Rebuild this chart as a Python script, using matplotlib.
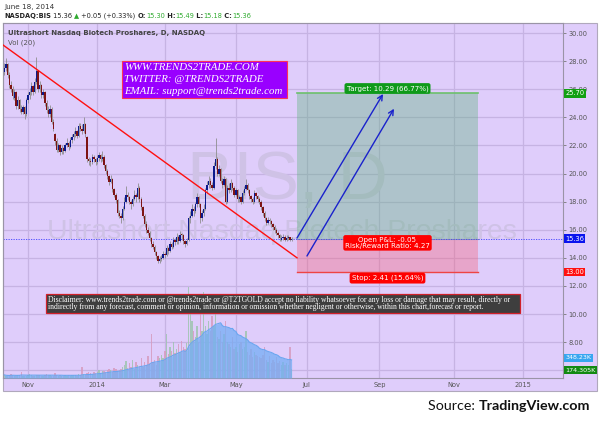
import numpy as np
import pandas as pd
import matplotlib
matplotlib.use("Agg")
import matplotlib.pyplot as plt
from matplotlib.patches import Rectangle
import matplotlib.transforms as mtrans

# ---------------- data ----------------
start_date = "2013-10-14"
axis_end_date = "2015-03-31"
market_holidays = ["2013-11-28", "2013-12-25", "2014-01-01", "2014-01-20", "2014-02-17",
                   "2014-04-18", "2014-05-26", "2014-07-04", "2014-09-01", "2014-11-27",
                   "2014-12-25", "2015-01-01", "2015-01-19", "2015-02-16"]

opens = [27.2, 27.5, 27.8, 27.0, 26.3, 26.0, 25.4, 25.8, 24.8, 25.2,
         24.6, 24.4, 24.7, 24.2, 25.2, 25.6, 25.8, 26.2, 25.8, 26.5,
         27.3, 26.0, 26.3, 25.6, 25.8, 25.0, 24.5, 24.2, 24.6, 23.7,
         22.8, 22.3, 21.7, 22.0, 21.5, 21.8, 21.6, 22.0, 22.2, 21.9,
         22.4, 22.6, 22.8, 23.0, 22.7, 23.4, 23.2, 23.0, 23.5, 22.6,
         21.0, 20.9, 20.8, 21.2, 21.0, 20.8, 21.1, 21.3, 21.0, 21.2,
         20.6, 20.2, 19.8, 19.4, 19.6, 18.9, 18.5, 18.1, 17.2, 17.0,
         16.8, 17.5, 18.0, 18.5, 18.3, 18.0, 17.8, 18.2, 18.5, 18.3,
         19.0, 18.2, 17.6, 17.0, 16.4, 16.0, 15.8, 15.4, 15.0, 14.8,
         14.4, 14.1, 13.8, 13.9, 14.0, 14.3, 14.2, 14.7, 14.5, 15.0,
         14.8, 15.3, 15.1, 15.5, 15.2, 15.7, 15.6, 15.2, 15.0, 15.3,
         16.8, 17.0, 17.5, 17.3, 17.8, 18.3, 17.8, 16.8, 17.2, 17.5,
         18.8, 19.2, 19.5, 19.2, 19.0, 20.5, 21.0, 20.0, 20.3, 19.5,
         19.2, 19.6, 18.0, 19.0, 18.8, 19.3, 19.0, 18.5, 18.8, 18.2,
         18.3, 18.0, 18.6, 18.9, 19.2, 18.8, 18.4, 18.2, 18.0, 18.6,
         18.4, 18.2, 18.0, 17.6, 17.2, 16.8, 16.5, 16.7, 16.6, 16.4,
         16.2, 16.0, 15.8, 15.6, 15.3, 15.4, 15.5, 15.3, 15.4, 15.45,
         15.30]
highs = [27.9, 28.2, 27.9, 27.2, 26.6, 26.2, 26.0, 25.9, 25.5, 25.3,
         24.9, 24.9, 24.8, 25.4, 25.8, 26.1, 26.5, 26.3, 26.8, 28.3,
         27.4, 26.6, 26.4, 26.0, 25.9, 25.2, 24.8, 24.9, 24.7, 23.9,
         22.9, 22.5, 22.2, 22.1, 22.0, 21.9, 22.2, 22.5, 22.3, 22.6,
         22.8, 23.0, 23.3, 23.1, 23.6, 23.6, 23.5, 24.0, 23.6, 22.7,
         21.2, 21.1, 21.4, 21.3, 21.1, 21.3, 21.5, 21.4, 21.6, 21.3,
         20.7, 20.3, 19.9, 19.9, 19.7, 19.0, 18.6, 18.2, 17.4, 17.2,
         17.7, 18.3, 19.1, 18.7, 18.4, 18.1, 18.4, 18.8, 18.6, 19.3,
         19.1, 18.3, 17.7, 17.1, 16.6, 16.2, 15.9, 15.5, 15.2, 14.9,
         14.5, 14.2, 14.1, 14.2, 14.5, 14.4, 14.9, 14.8, 15.2, 15.1,
         15.5, 15.4, 15.8, 15.6, 15.9, 15.8, 15.7, 15.3, 15.4, 17.0,
         17.3, 17.8, 17.7, 18.0, 18.6, 18.4, 17.9, 17.4, 17.8, 19.0,
         19.5, 19.8, 19.7, 19.4, 20.8, 22.5, 21.2, 20.6, 20.4, 19.7,
         19.8, 19.7, 19.2, 19.3, 19.6, 19.4, 19.1, 19.0, 18.9, 18.5,
         18.4, 18.8, 19.1, 19.6, 19.3, 18.9, 18.5, 18.3, 18.8, 18.7,
         18.5, 18.3, 18.1, 17.7, 17.3, 16.9, 16.9, 16.8, 16.7, 16.5,
         16.3, 16.1, 15.9, 15.7, 15.6, 15.7, 15.6, 15.6, 15.6, 15.5,
         15.49]
lows = [27.0, 27.3, 26.8, 26.1, 25.8, 25.3, 25.2, 24.6, 24.6, 24.4,
        24.2, 24.2, 23.9, 24.1, 25.0, 25.3, 25.6, 25.6, 25.7, 26.4,
        25.8, 25.8, 25.4, 25.4, 24.8, 24.3, 24.0, 24.0, 23.5, 23.0,
        22.0, 21.5, 21.5, 21.3, 21.4, 21.4, 21.5, 21.9, 21.7, 21.8,
        22.2, 22.4, 22.6, 22.5, 22.6, 23.0, 22.8, 22.9, 22.6, 20.8,
        20.6, 20.5, 20.7, 20.8, 20.6, 20.7, 20.9, 20.8, 20.9, 20.4,
        20.0, 19.6, 19.2, 19.3, 18.7, 18.3, 17.9, 17.0, 16.8, 16.5,
        16.7, 17.4, 17.9, 18.1, 17.8, 17.5, 17.7, 18.1, 18.0, 18.2,
        18.0, 17.4, 16.8, 16.2, 15.8, 15.6, 15.2, 14.8, 14.6, 14.2,
        13.9, 13.6, 13.6, 13.8, 13.9, 14.0, 14.1, 14.3, 14.4, 14.6,
        14.7, 14.9, 15.0, 15.0, 15.1, 15.3, 15.0, 14.8, 14.9, 15.2,
        16.5, 16.9, 17.0, 17.2, 17.6, 17.6, 16.5, 16.6, 17.0, 17.4,
        18.6, 19.0, 19.0, 18.8, 18.9, 20.3, 19.8, 19.8, 19.3, 19.0,
        19.1, 17.8, 17.9, 18.6, 18.7, 18.8, 18.3, 18.4, 18.0, 18.0,
        17.8, 17.9, 18.5, 18.8, 18.6, 18.2, 18.0, 17.8, 17.9, 18.2,
        18.0, 17.8, 17.4, 17.0, 16.6, 16.3, 16.4, 16.4, 16.2, 16.0,
        15.8, 15.6, 15.4, 15.2, 15.2, 15.3, 15.2, 15.2, 15.3, 15.2,
        15.18]
closes = [27.5, 27.8, 27.0, 26.3, 26.0, 25.5, 25.8, 24.8, 25.2, 24.6,
          24.4, 24.7, 24.2, 25.2, 25.6, 25.8, 26.2, 25.8, 26.5, 27.3,
          26.0, 26.3, 25.6, 25.8, 25.0, 24.5, 24.2, 24.6, 23.7, 23.2,
          22.3, 21.7, 22.0, 21.5, 21.8, 21.6, 22.0, 22.2, 21.9, 22.4,
          22.6, 22.8, 23.0, 22.7, 23.4, 23.2, 23.0, 23.5, 22.8, 21.0,
          20.9, 20.8, 21.2, 21.0, 20.8, 21.1, 21.3, 21.0, 21.2, 20.6,
          20.2, 19.8, 19.4, 19.6, 18.9, 18.5, 18.1, 17.2, 17.0, 16.8,
          17.5, 18.0, 18.5, 18.3, 18.0, 17.8, 18.2, 18.5, 18.3, 19.0,
          18.2, 17.6, 17.0, 16.4, 16.0, 15.8, 15.4, 15.0, 14.8, 14.4,
          14.1, 13.8, 13.9, 14.0, 14.3, 14.2, 14.7, 14.5, 15.0, 14.8,
          15.3, 15.1, 15.5, 15.2, 15.6, 15.6, 15.2, 15.0, 15.2, 16.8,
          17.0, 17.5, 17.3, 17.8, 18.3, 17.8, 16.8, 17.2, 17.5, 18.8,
          19.2, 19.5, 19.2, 19.0, 20.5, 21.0, 20.0, 20.3, 19.5, 19.2,
          19.6, 18.0, 19.0, 18.8, 19.3, 19.0, 18.5, 18.8, 18.2, 18.3,
          18.0, 18.6, 18.9, 19.2, 18.8, 18.4, 18.2, 18.0, 18.6, 18.4,
          18.2, 18.0, 17.6, 17.2, 16.8, 16.5, 16.7, 16.6, 16.4, 16.2,
          16.0, 15.8, 15.6, 15.4, 15.4, 15.5, 15.3, 15.4, 15.45, 15.30,
          15.36]
volumes_k = [60, 45, 50, 40, 70, 55, 45, 40, 60, 50, 120, 45, 40, 35, 60, 80, 50, 45, 40, 55,
             60, 50, 45, 40, 55, 70, 60, 50, 45, 40, 90, 60, 45, 50, 40, 35, 60, 45, 50, 40,
             55, 60, 50, 45, 70, 65, 220, 80, 60, 90, 120,
             100, 80, 110, 90, 120, 150, 100, 130, 140, 110, 160, 180, 150, 120, 200, 170, 140, 160, 180, 210,
             250, 330, 200, 280, 220, 350, 180, 300, 260, 240, 380, 220, 300, 250, 420, 280, 840, 300, 350, 260,
             420, 380, 450, 380, 520, 840, 460, 600, 520, 700, 480, 560, 650, 500, 720, 600, 550, 680,
             1750, 1300, 1100, 900, 800, 1000, 700, 1400, 900, 1650, 1000, 850, 1100, 900, 1200, 1000, 1300,
             800, 750, 900, 700, 850,
             1100, 700, 650, 600, 800, 550, 600, 500, 650, 700, 550, 600, 900, 500, 450, 550, 400, 500, 450, 420,
             400, 380, 450, 600, 350, 300, 420, 280, 350, 300, 400, 280, 320, 260, 300, 250, 280, 260, 600, 174.305]

price_ticks = [8, 10, 12, 14, 16, 18, 20, 22, 24, 26, 28, 30]
month_starts = ["2013-11-01", "2014-01-02", "2014-03-03", "2014-05-01",
                "2014-07-01", "2014-09-02", "2014-11-03", "2015-01-02"]
month_labels = ["Nov", "2014", "Mar", "May", "Jul", "Sep", "Nov", "2015"]

trend_x = [-0.8, 173.2]
trend_y = [29.15, 14.0]

entry_price = 15.36
target_price = 25.70
stop_price = 13.00
position_x = [173.2, 280.3]
arrow1_x, arrow1_y = [173.2, 224.1], [15.41, 25.66]
arrow2_x, arrow2_y = [179.1, 230.6], [14.13, 24.61]
vol_ma_label = "348.23K"
vol_last_label = "174.305K"

# ---------------- figure ----------------
W, H = 600, 421
fig = plt.figure(figsize=(6, 4.21), dpi=100)
fig.patch.set_facecolor("white")


def fx(px):
    return px / W


def fy(py):
    return 1 - py / H


LAV = "#dfcdfb"
GRID = "#c6b3e3"
WM = "#cfc2e6"

bg = Rectangle((fx(3), fy(391)), fx(597) - fx(3), fy(23) - fy(391), transform=fig.transFigure,
               facecolor=LAV, edgecolor="#b0a8bc", lw=0.8, zorder=-10)
fig.patches.append(bg)

rect = [fx(3), fy(378), fx(563) - fx(3), fy(23) - fy(378)]
ax = fig.add_axes(rect, zorder=1)
ax.set_facecolor("none")
axv = fig.add_axes(rect, zorder=2, sharex=ax)
axv.set_facecolor("none")

holidays = pd.to_datetime(market_holidays)
sessions = pd.bdate_range(start_date, axis_end_date, freq="C", holidays=holidays)
n = len(closes)
idx = np.arange(n)
o = np.array(opens)
h = np.array(highs)
l = np.array(lows)
c = np.array(closes)
up = c >= o

ax.set_xlim(-0.77, 330.6)
ax.set_ylim(5.445, 30.712)

# grid
tick_pos = [int(np.searchsorted(sessions.values, np.datetime64(d))) for d in month_starts]
for tp in tick_pos:
    ax.axvline(tp, color=GRID, lw=0.9, zorder=0)
for pt in price_ticks + [6]:
    ax.axhline(pt, color=GRID, lw=0.9, zorder=0)

# watermark
ax.text(fx(287), fy(181), "BIS, D", transform=fig.transFigure, ha="center", va="center",
        fontsize=50, color=WM, family="Liberation Sans", zorder=0.5)
ax.text(fx(282), fy(232), "Ultrashort Nasdaq Biotech Proshares", transform=fig.transFigure,
        ha="center", va="center", fontsize=20.5, color=WM, family="Liberation Sans", zorder=0.5)

# position tool
ax.add_patch(Rectangle((position_x[0], entry_price), position_x[1] - position_x[0], target_price - entry_price,
                       facecolor=(0.35, 0.70, 0.47, 0.36), edgecolor="none", zorder=1))
ax.add_patch(Rectangle((position_x[0], stop_price), position_x[1] - position_x[0], entry_price - stop_price,
                       facecolor=(0.97, 0.37, 0.45, 0.36), edgecolor="none", zorder=1))
ax.plot(position_x, [target_price, target_price], color="#6cc06c", lw=1.2, zorder=2)
ax.plot(position_x, [stop_price, stop_price], color="#ee4444", lw=1.0, zorder=2)
ax.plot(position_x, [entry_price, entry_price], color="#9a9aaa", lw=0.8, zorder=2)

# last price dotted line
ax.axhline(entry_price, color="#4040ff", lw=0.6, ls=(0, (1.5, 1.5)), zorder=2)

# candles
ax.vlines(idx, l, h, color="#8e8e8e", lw=0.6, zorder=3)
body_lo = np.minimum(o, c)
body_h = np.maximum(np.abs(c - o), 0.05)
ax.bar(idx, body_h, bottom=body_lo, width=0.8, color=np.where(up, "#0c1a8c", "#7e1414"),
       linewidth=0, zorder=4)

# trend line
ax.plot(trend_x, trend_y, color="#ff1010", lw=1.0, zorder=5)

# arrows
for axx, ayy in ((arrow1_x, arrow1_y), (arrow2_x, arrow2_y)):
    ax.annotate("", xy=(axx[1], ayy[1]), xytext=(axx[0], ayy[0]),
                arrowprops=dict(arrowstyle="->", color="#1a22cc", lw=1.0, mutation_scale=9,
                                shrinkA=0, shrinkB=0), zorder=6)

# position labels
mid_x = (position_x[0] + position_x[1]) / 2
lab_font = dict(family="DejaVu Sans", fontsize=5.1, color="white", ha="center", zorder=7)
ax.annotate("Target: 10.29 (66.77%)", xy=(mid_x, target_price), xytext=(0, 1.2), textcoords="offset points",
            va="bottom", bbox=dict(boxstyle="round,pad=0.3,rounding_size=0.3", fc="#0f9a1a", ec="none"), **lab_font)
ax.annotate("Open P&L: -0.05\nRisk/Reward Ratio: 4.27", xy=(mid_x, entry_price), xytext=(0, -3.0),
            textcoords="offset points", va="center", linespacing=1.0,
            bbox=dict(boxstyle="round,pad=0.25,rounding_size=0.3", fc="#ff0000", ec="none"), **lab_font)
ax.annotate("Stop: 2.41 (15.64%)", xy=(mid_x, stop_price), xytext=(0, -2.2), textcoords="offset points",
            va="top", bbox=dict(boxstyle="round,pad=0.3,rounding_size=0.3", fc="#ff0000", ec="none"), **lab_font)

# axes styling
for sp in ax.spines.values():
    sp.set_color("#9a94a6")
    sp.set_linewidth(0.8)
for sp in axv.spines.values():
    sp.set_visible(False)
ax.yaxis.tick_right()
ax.set_yticks(price_ticks)
ax.set_yticklabels(["%.2f" % t for t in price_ticks])
ax.tick_params(axis="y", length=2.5, width=0.6, color="#777777", labelsize=4.8, labelcolor="#555555", pad=1.5)
ax.set_xticks(tick_pos)
ax.set_xticklabels(month_labels)
ax.tick_params(axis="x", length=0, labelsize=4.8, labelcolor="#555555", pad=3)
for lab in ax.get_xticklabels() + ax.get_yticklabels():
    lab.set_family("DejaVu Sans")

# price scale labels
bt = mtrans.blended_transform_factory(ax.transAxes, ax.transData)
for val, txt, col in ((target_price, "25.70", "#12a012"), (entry_price, "15.36", "#0a14ee"),
                      (stop_price, "13.00", "#ff1010")):
    ax.text(1.004, val, txt, transform=bt, ha="left", va="center", fontsize=4.8, color="white",
            family="DejaVu Sans", bbox=dict(boxstyle="square,pad=0.2", fc=col, ec="none"), clip_on=False, zorder=8)

# volume
vol = np.array(volumes_k, dtype=float)
vol_ma = pd.Series(vol).rolling(20, min_periods=1).mean().values
axv.set_ylim(0, 6850)
axv.bar(idx, vol, width=0.8, color=np.where(up, "#9fc4b0", "#d69cc0"), alpha=0.85, linewidth=0, zorder=1)
axv.fill_between(idx, 0, vol_ma, color="#74aef5", alpha=0.75, linewidth=0, zorder=2)
axv.plot(idx, vol_ma, color="#6aa6f0", lw=0.8, zorder=3)
axv.set_yticks([])
axv.tick_params(axis="x", length=0, labelbottom=False)
bv = mtrans.blended_transform_factory(axv.transAxes, axv.transData)
axv.text(1.004, vol_ma[-1] + 40, vol_ma_label, transform=bv, ha="left", va="center", fontsize=4.6, color="white",
         family="DejaVu Sans", bbox=dict(boxstyle="square,pad=0.2", fc="#38a6f0", ec="none"), clip_on=False)
axv.text(1.004, vol[-1] - 20, vol_last_label, transform=bv, ha="left", va="center", fontsize=4.6, color="white",
         family="DejaVu Sans", bbox=dict(boxstyle="square,pad=0.2", fc="#128a12", ec="none"), clip_on=False)

# in-chart titles
ax.text(fx(8), fy(33), "Ultrashort Nasdaq Biotech Proshares, D, NASDAQ", transform=fig.transFigure,
        fontsize=5.0, color="#444444", fontweight="bold", family="DejaVu Sans", va="center", zorder=8)
ax.text(fx(8), fy(42.5), "Vol (20)", transform=fig.transFigure,
        fontsize=5.0, color="#555555", family="DejaVu Sans", va="center", zorder=8)

renderer = fig.canvas.get_renderer()


def seq_text(x_px, y_px, pieces, size, family):
    x = x_px
    for s, col, wt in pieces:
        t = fig.text(fx(x), fy(y_px), s, color=col, fontsize=size, fontweight=wt, family=family,
                     ha="left", va="center")
        x += t.get_window_extent(renderer).width
    return x


# header
fig.text(fx(4), fy(6.5), "June 18, 2014", fontsize=5.2, color="#333333", family="DejaVu Sans", va="center")
G = "#2faa2f"
D = "#222222"
seq_text(4, 16, [("NASDAQ:BIS", D, "bold"), (" 15.36 ", D, "normal"), ("\u25B2", G, "normal"),
                 (" +0.05 (+0.33%) ", D, "normal"), ("O:", D, "bold"), ("15.30", G, "normal"),
                 (" H:", D, "bold"), ("15.49", G, "normal"), (" L:", D, "bold"), ("15.18", G, "normal"),
                 (" C:", D, "bold"), ("15.36", G, "normal")], 4.75, "DejaVu Sans")

# promo box
fig.patches.append(Rectangle((fx(122), fy(98)), fx(287) - fx(122), fy(61) - fy(98), transform=fig.transFigure,
                             facecolor="#9900ff", edgecolor="#ff3355", lw=0.8, zorder=9))
for k, line in enumerate(["WWW.TRENDS2TRADE.COM", "TWITTER: @TRENDS2TRADE", "EMAIL: support@trends2trade.com"]):
    fig.text(fx(124.5), fy(68 + 12 * k), line, fontsize=7.85, style="italic", color="white",
             family="Liberation Serif", va="center", zorder=10)

# disclaimer box
fig.patches.append(Rectangle((fx(46), fy(313)), fx(520) - fx(46), fy(294) - fy(313), transform=fig.transFigure,
                             facecolor="#3e3e3e", edgecolor="#d0202a", lw=0.9, zorder=9))
disc = ["Disclaimer: www.trends2trade.com or @trends2trade or @T2TGOLD accept no liability whatsoever for any loss or damage that may result, directly or",
        "indirectly from any forecast, comment or opinion, information or omission whether negligent or otherwise, within this chart,forecast or report."]
for k, line in enumerate(disc):
    fig.text(fx(48), fy(299.5 + 7.5 * k), line, fontsize=5.5, color="white", family="Liberation Serif",
             va="center", zorder=10)

# source
t_bold = fig.text(fx(590), fy(406), "TradingView.com", fontsize=10.3, fontweight="bold", color="#111111",
                  family="Lato", ha="right", va="center")
bb = t_bold.get_window_extent(renderer)
fig.text(bb.x0 / W, fy(406), "Source: ", fontsize=10.3, color="#111111", family="Lato", ha="right", va="center")

fig.savefig("out.png", dpi=100, facecolor="white")
